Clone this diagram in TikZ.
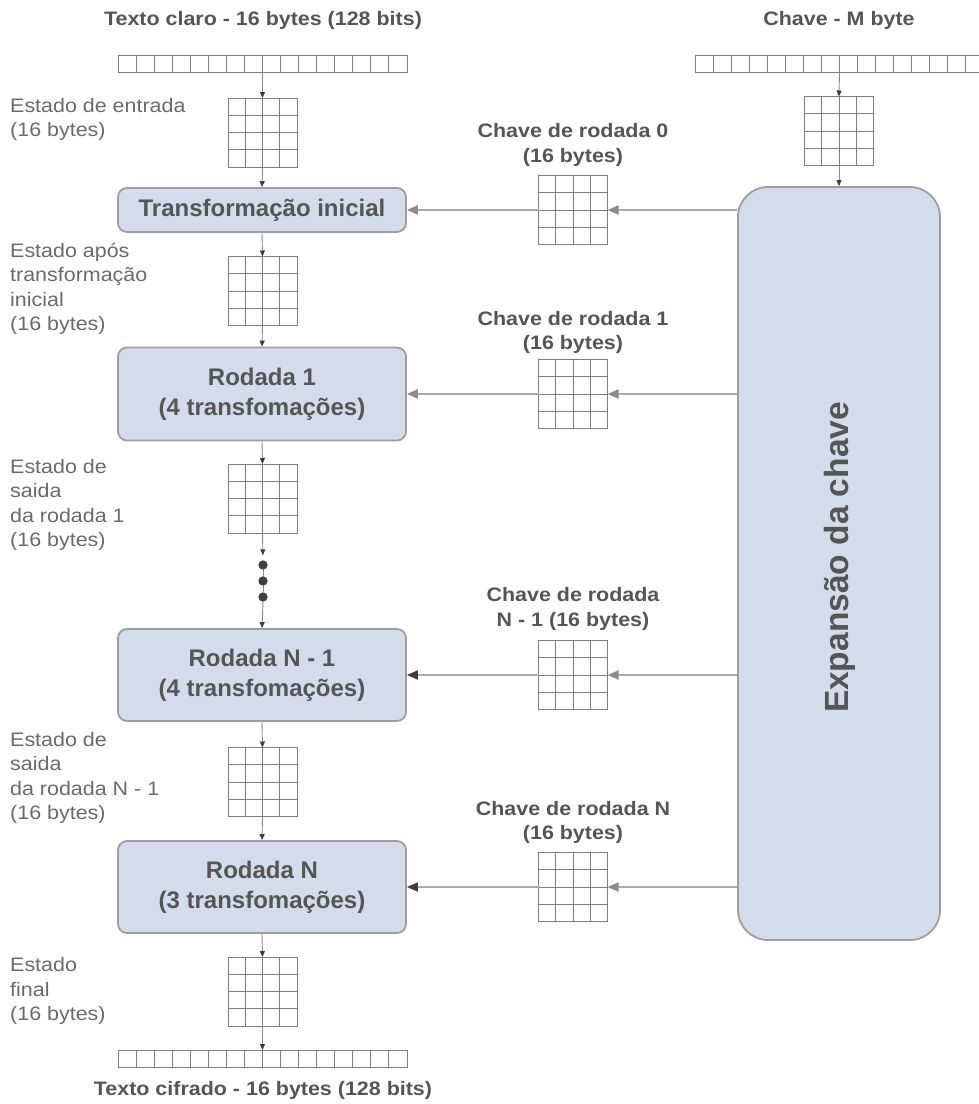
\documentclass[tikz,border=0pt]{standalone}
\usepackage{fontspec}
\setmainfont{Liberation Sans}
\newfontfamily\lblfont{Liberation Sans}[FakeStretch=1.1]
\usetikzlibrary{arrows.meta,calc}
\definecolor{boxfill}{HTML}{D4DCEC}
\definecolor{boxline}{HTML}{9E9E9E}
\definecolor{ink}{HTML}{555555}
\definecolor{lblc}{HTML}{6A6A6A}
\definecolor{gridc}{HTML}{7E7E7E}
\definecolor{vline}{HTML}{8A8A8A}
\definecolor{hline}{HTML}{ABABAB}
\definecolor{tipdark}{HTML}{3E3E3E}
\definecolor{tipgrey}{HTML}{8C8C8C}

\begin{document}
\begin{tikzpicture}[x=1pt,y=-1pt,
  bytegrid/.style={draw=gridc, line width=1pt, minimum width=69pt, minimum height=69pt,
    inner sep=0pt, outer sep=0pt,
    path picture={
      \foreach \i in {1,2,3}{
        \draw[gridc, line width=1pt]
          ($(path picture bounding box.north west)!\i/4!(path picture bounding box.north east)$) --
          ($(path picture bounding box.south west)!\i/4!(path picture bounding box.south east)$)
          ($(path picture bounding box.north west)!\i/4!(path picture bounding box.south west)$) --
          ($(path picture bounding box.north east)!\i/4!(path picture bounding box.south east)$);
      }}},
  bytestrip/.style={draw=gridc, line width=1pt, minimum width=289pt, minimum height=17pt,
    inner sep=0pt, outer sep=0pt,
    path picture={
      \foreach \i in {1,...,15}{
        \draw[gridc, line width=1pt]
          ($(path picture bounding box.north west)!\i/16!(path picture bounding box.north east)$) --
          ($(path picture bounding box.south west)!\i/16!(path picture bounding box.south east)$);
      }}},
  stage/.style={draw=boxline, line width=1.8pt, fill=boxfill, rounded corners=9pt,
    minimum width=288pt, inner sep=0pt, text=ink, align=center,
    font=\fontsize{24}{30}\selectfont\bfseries},
  expbox/.style={draw=boxline, line width=1.8pt, fill=boxfill, rounded corners=30pt,
    minimum width=202pt, minimum height=753pt, inner sep=0pt},
  title/.style={text=ink, inner sep=0pt, align=center,
    font=\lblfont\fontsize{19.5}{24.5}\selectfont\bfseries},
  lbl/.style={text=lblc, inner sep=0pt, align=left, anchor=west,
    font=\lblfont\fontsize{19.5}{24.5}\selectfont},
  varrow/.style={draw=vline, line width=0.9pt, -{Triangle[length=6pt,width=5pt,color=tipdark]}},
  harrow/.style={draw=hline, line width=2pt, -{Triangle[length=11pt,width=9pt,color=tipgrey]}},
  harrowdark/.style={draw=hline, line width=2pt, -{Triangle[length=11pt,width=9pt,color=tipdark]}},
  dotmark/.style={circle, fill=tipdark, inner sep=0pt, minimum size=9pt},
]
\useasboundingbox (0,0) rectangle (979,1104);

% ---------- data path (left column) ----------
\node[title] (tTop) at (263,20) {Texto claro - 16 bytes (128 bits)};
\node[bytestrip] (sTop) at (262.5,63.5) {};
\node[bytegrid] (g0) at (262.5,132.5) {};
\node[lbl] (l0) at (10,119.5) {Estado de entrada\\(16 bytes)};

\node[stage, minimum height=44pt] (bInit) at (262,210) {Transformação inicial};

\node[bytegrid] (g1) at (262.5,291) {};
\node[lbl] (l1) at (10,289) {Estado após\\transformação\\inicial\\(16 bytes)};

\node[stage, minimum height=93pt] (bR1) at (262,394) {Rodada 1\\(4 transfomações)};

\node[bytegrid] (g2) at (262.5,498.5) {};
\node[lbl] (l2) at (10,505) {Estado de\\saida\\da rodada 1\\(16 bytes)};

\node[dotmark] (dot1) at (263,565) {};
\node[dotmark] (dot2) at (263,581) {};
\node[dotmark] (dot3) at (263,597) {};

\node[stage, minimum height=92pt] (bRN1) at (262,675) {Rodada N - 1\\(4 transfomações)};

\node[bytegrid] (g3) at (262.5,782) {};
\node[lbl] (l3) at (10,778) {Estado de\\saida\\da rodada N - 1\\(16 bytes)};

\node[stage, minimum height=92pt] (bRN) at (262,887) {Rodada N\\(3 transfomações)};

\node[bytegrid] (g4) at (262.5,991.5) {};
\node[lbl] (l4) at (10,991) {Estado\\final\\(16 bytes)};

\node[bytestrip] (sBot) at (262.5,1058.5) {};
\node[title] (tBot) at (263,1090) {Texto cifrado - 16 bytes (128 bits)};

% vertical connectors
\draw[varrow] (sTop.south) -- (g0.north);
\draw[varrow] (g0.south) -- (bInit.north);
\draw[varrow] (bInit.south) -- (g1.north);
\draw[varrow] (g1.south) -- (bR1.north);
\draw[varrow] (bR1.south) -- (g2.north);
\draw[varrow, shorten >=5pt] (g2.south) -- (dot1.north);
\draw[draw=vline, line width=0.9pt] (dot1) -- (dot3);
\node[dotmark] at (dot1) {};
\node[dotmark] at (dot2) {};
\node[dotmark] at (dot3) {};
\draw[varrow] (dot3.south) -- (bRN1.north);
\draw[varrow] (bRN1.south) -- (g3.north);
\draw[varrow] (g3.south) -- (bRN.north);
\draw[varrow] (bRN.south) -- (g4.north);
\draw[varrow] (g4.south) -- (sBot.north);

% ---------- key schedule (right column) ----------
\node[title] (tKey) at (839,20) {Chave - M byte};
\node[bytestrip] (sKey) at (839.5,63.5) {};
\node[bytegrid] (gK) at (839,131) {};
\node[expbox] (bExp) at (839,563.5) {};
\node[text=ink, rotate=90, inner sep=0pt, font=\fontsize{33.5}{40}\selectfont\bfseries]
  (tExp) at (840,557.5) {Expansão da chave};

\draw[varrow] (sKey.south) -- (gK.north);
\draw[varrow] (gK.south) -- (bExp.north);

% round keys
\node[bytegrid] (kg0) at (573,210) {};
\node[title] (kt0) at (573,145) {Chave de rodada 0\\(16 bytes)};
\node[bytegrid] (kg1) at (573,394) {};
\node[title] (kt1) at (573,332.5) {Chave de rodada 1\\(16 bytes)};
\node[bytegrid] (kg2) at (573,675) {};
\node[title] (kt2) at (573,609) {Chave de rodada\\N - 1 (16 bytes)};
\node[bytegrid] (kg3) at (573,887) {};
\node[title] (kt3) at (573,822.5) {Chave de rodada N\\(16 bytes)};

\draw[harrow] (bExp.west |- kg0.east) -- (kg0.east);
\draw[harrow] (kg0.west) -- (kg0.west -| bInit.east);
\draw[harrow] (bExp.west |- kg1.east) -- (kg1.east);
\draw[harrow] (kg1.west) -- (kg1.west -| bR1.east);
\draw[harrow] (bExp.west |- kg2.east) -- (kg2.east);
\draw[harrowdark] (kg2.west) -- (kg2.west -| bRN1.east);
\draw[harrow] (bExp.west |- kg3.east) -- (kg3.east);
\draw[harrowdark] (kg3.west) -- (kg3.west -| bRN.east);
\end{tikzpicture}
\end{document}
